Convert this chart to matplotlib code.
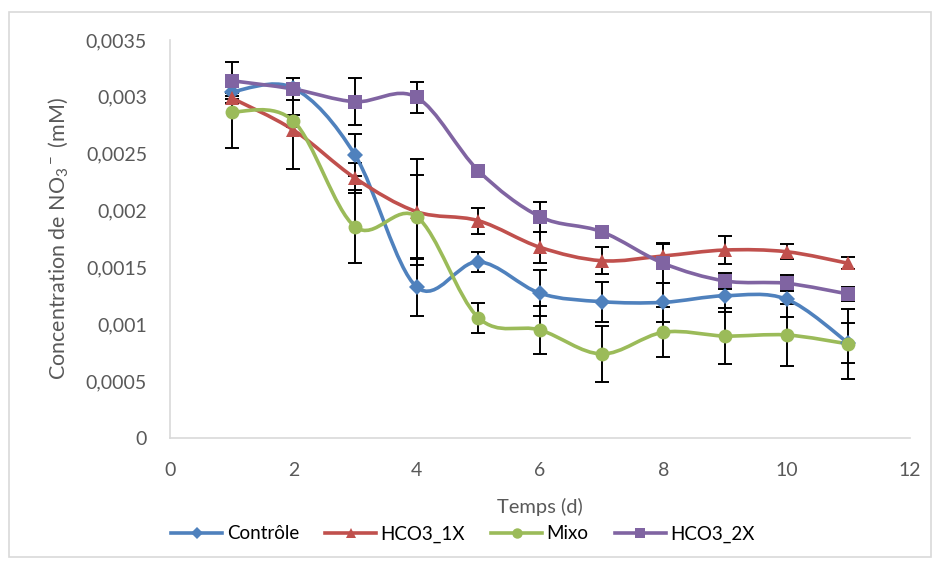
import numpy as np
import matplotlib
matplotlib.use("Agg")
import matplotlib.pyplot as plt
from matplotlib.path import Path
from matplotlib.patches import PathPatch, Rectangle
from matplotlib.lines import Line2D

plt.rcParams['font.family'] = ['Lato', 'DejaVu Sans']
plt.rcParams['mathtext.fontset'] = 'custom'
plt.rcParams['mathtext.rm'] = 'Lato'
plt.rcParams['mathtext.it'] = 'Lato:italic'

# data
days = [1, 2, 3, 4, 5, 6, 7, 8, 9, 10, 11]

controle = [0.003045, 0.003078, 0.002489, 0.001328, 0.001550, 0.001273,
            0.001199, 0.001193, 0.001251, 0.001220, 0.000835]
controle_err = [0.00004, 0.00004, 0.000185, 0.000255, 0.000088, 0.0002,
                0.000176, 0.000172, 0.00014, 0.000158, 0.000176]

hco3_1x = [0.00299, 0.002709, 0.002286, 0.00199, 0.001911, 0.001677,
           0.001559, 0.001601, 0.001653, 0.001638, 0.001536]
hco3_1x_err = [0.000044, 0.000343, 0.000132, 0.000466, 0.000114, 0.000136,
               0.000117, 0.000112, 0.000123, 0.000065, 0.000053]

mixo = [0.002869, 0.002788, 0.001858, 0.001946, 0.001058, 0.00095,
        0.000739, 0.00093, 0.000897, 0.000906, 0.000827]
mixo_err = [0.000317, 0.000053, 0.000322, 0.000369, 0.000132, 0.000211,
            0.000244, 0.00022, 0.000246, 0.00027, 0.000308]

hco3_2x = [0.003142, 0.003069, 0.002957, 0.002996, 0.002351, 0.001946,
           0.001814, 0.001536, 0.001381, 0.00136, 0.001266]
hco3_2x_err = [0.000164, 0.000094, 0.000206, 0.000138, 0.000035, 0.000132,
               0.000026, 0.00017, 0.00007, 0.00007, 0.000064]

labels = ['Contrôle', 'HCO3_1X', 'Mixo', 'HCO3_2X']
colors = ['#4F81BD', '#C0504D', '#9BBB59', '#8064A2']
markers = ['D', '^', 'o', 's']
msizes = [8, 10, 10, 9.5]

yticks = [0, 0.0005, 0.001, 0.0015, 0.002, 0.0025, 0.003, 0.0035]
ytick_labels = ['0', '0,0005', '0,001', '0,0015', '0,002', '0,0025', '0,003', '0,0035']
xticks = [0, 2, 4, 6, 8, 10, 12]


def smooth_path(x, y):
    # Excel-like smoothed line: cubic Bezier through every point
    pts = np.column_stack([x, y]).astype(float)
    ext = np.vstack([pts[0], pts, pts[-1]])
    verts = [pts[0]]
    codes = [Path.MOVETO]
    for i in range(len(pts) - 1):
        p0, p1, p2, p3 = ext[i], ext[i + 1], ext[i + 2], ext[i + 3]
        verts += [p1 + (p2 - p0) / 6, p2 - (p3 - p1) / 6, p2]
        codes += [Path.CURVE4] * 3
    return Path(verts, codes)


fig = plt.figure(figsize=(9.37, 5.64), dpi=100)
ax = fig.add_axes([170 / 937, 1 - 438 / 564, 740 / 937, 398 / 564])

series = [(controle, controle_err), (hco3_1x, hco3_1x_err),
          (mixo, mixo_err), (hco3_2x, hco3_2x_err)]

handles = []
for (vals, errs), lab, col, mk, ms in zip(series, labels, colors, markers, msizes):
    ax.errorbar(days, vals, yerr=errs, fmt='none', ecolor='black',
                elinewidth=1.4, capsize=5, capthick=1.4, zorder=2)
    ax.add_patch(PathPatch(smooth_path(days, vals), fill=False, edgecolor=col,
                           lw=2.6, zorder=3, capstyle='round'))
    ax.plot(days, vals, linestyle='none', marker=mk, ms=ms, color=col,
            markeredgewidth=0, zorder=4)
    handles.append(Line2D([], [], color=col, lw=2.6, marker=mk, ms=ms * 0.75,
                          markeredgewidth=0))

ax.set_xlim(0, 12)
ax.set_ylim(0, 0.0035)
ax.set_xticks(xticks)
ax.set_xticklabels([str(t) for t in xticks])
ax.set_yticks(yticks)
ax.set_yticklabels(ytick_labels)
ax.tick_params(axis='both', length=0, labelsize=14, labelcolor='#595959')
ax.tick_params(axis='x', pad=17)
ax.tick_params(axis='y', pad=16.5)

for side in ['top', 'right']:
    ax.spines[side].set_visible(False)
for side in ['left', 'bottom']:
    ax.spines[side].set_color('#D9D9D9')
    ax.spines[side].set_linewidth(1.2)

ax.set_xlabel('Temps (d)', fontsize=14.5, color='#595959')
ax.xaxis.set_label_coords(0.5, -0.151)
ax.set_ylabel(r'Concentration de NO$_3$$^-$ (mM)', fontsize=15.5, color='#595959')
ax.yaxis.set_label_coords(-0.135, 0.5)

fig.legend(handles, labels, loc='center', bbox_to_anchor=(463 / 937, 1 - 534 / 564),
           ncol=4, frameon=False, fontsize=13.5, handlelength=2.7,
           handletextpad=0.25, columnspacing=1.4)

fig.patches.append(Rectangle((9 / 937, 1 - 557 / 564), 922 / 937, 545 / 564,
                             transform=fig.transFigure, fill=False,
                             edgecolor='#D9D9D9', lw=1.2))

fig.savefig('out.png', dpi=100)
